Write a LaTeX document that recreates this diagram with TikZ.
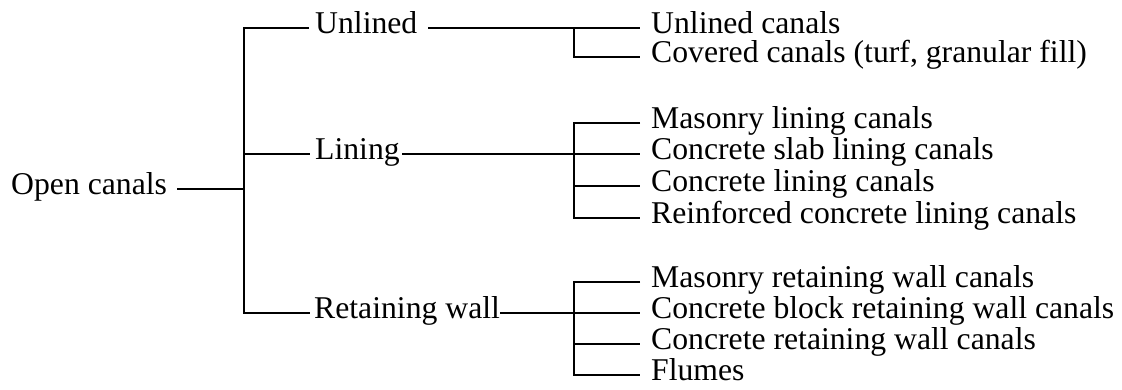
\documentclass[tikz,border=0pt]{standalone}
\usepackage{fontspec}
\setmainfont{Liberation Serif}
\begin{document}
\begin{tikzpicture}[x=1pt,y=-1pt,
  lbl/.style={inner sep=0pt, anchor=base west, font=\fontsize{31.7}{38}\selectfont},
  conn/.style={line width=1.2pt}]
\useasboundingbox (0,0) rectangle (1122,390);

% ---- text nodes ----
\node[lbl] (open) at (11,194.5) {Open canals};
\node[lbl] (unl) at (315,33.5) {Unlined};
\node[lbl] (lin) at (315,159.5) {Lining};
\node[lbl] (ret) at (314,318.5) {Retaining wall};

\node[lbl] (u1) at (651,33.5) {Unlined canals};
\node[lbl] (u2) at (651,62.5) {Covered canals (turf, granular fill)};

\node[lbl] (l1) at (651,128.5) {Masonry lining canals};
\node[lbl] (l2) at (651,159.5) {Concrete slab lining canals};
\node[lbl] (l3) at (651,191.5) {Concrete lining canals};
\node[lbl] (l4) at (651,223.5) {Reinforced concrete lining canals};

\node[lbl] (r1) at (651,287.5) {Masonry retaining wall canals};
\node[lbl] (r2) at (651,318.5) {Concrete block retaining wall canals};
\node[lbl] (r3) at (651,349.5) {Concrete retaining wall canals};
\node[lbl] (r4) at (651,380.5) {Flumes};

% ---- connector points ----
\coordinate (open-r) at (177,189);
\coordinate (J0) at (244,189);
\coordinate (J0t) at (244,28);
\coordinate (J0m) at (244,154);
\coordinate (J0b) at (244,313);
\coordinate (unl-l) at (309,28);
\coordinate (lin-l) at (310,154);
\coordinate (ret-l) at (310,313);
\coordinate (unl-r) at (428,28);
\coordinate (lin-r) at (402,154);
\coordinate (ret-r) at (500,313);

\coordinate (u1-l) at (640,28);
\coordinate (u2-l) at (640,57);
\coordinate (Ju1) at (574,28);
\coordinate (Ju2) at (574,57);

\coordinate (l1-l) at (640,123);
\coordinate (l2-l) at (640,154);
\coordinate (l3-l) at (640,186);
\coordinate (l4-l) at (640,218);
\coordinate (Jl1) at (574,123);
\coordinate (Jl3) at (574,186);
\coordinate (Jl4) at (574,218);

\coordinate (r1-l) at (640,282);
\coordinate (r2-l) at (640,313);
\coordinate (r3-l) at (640,344);
\coordinate (r4-l) at (640,375);
\coordinate (Jr1) at (574,282);
\coordinate (Jr3) at (574,344);
\coordinate (Jr4) at (574,375);

% ---- connectors ----
\draw[conn] (open-r) -- (J0);
\draw[conn] (unl-l) -- (J0t) -- (J0b) -- (ret-l);
\draw[conn] (J0m) -- (lin-l);

\draw[conn] (unl-r) -- (u1-l);
\draw[conn] (Ju1) -- (Ju2) -- (u2-l);

\draw[conn] (lin-r) -- (l2-l);
\draw[conn] (l1-l) -- (Jl1) -- (Jl4) -- (l4-l);
\draw[conn] (Jl3) -- (l3-l);

\draw[conn] (ret-r) -- (r2-l);
\draw[conn] (r1-l) -- (Jr1) -- (Jr4) -- (r4-l);
\draw[conn] (Jr3) -- (r3-l);
\end{tikzpicture}
\end{document}
